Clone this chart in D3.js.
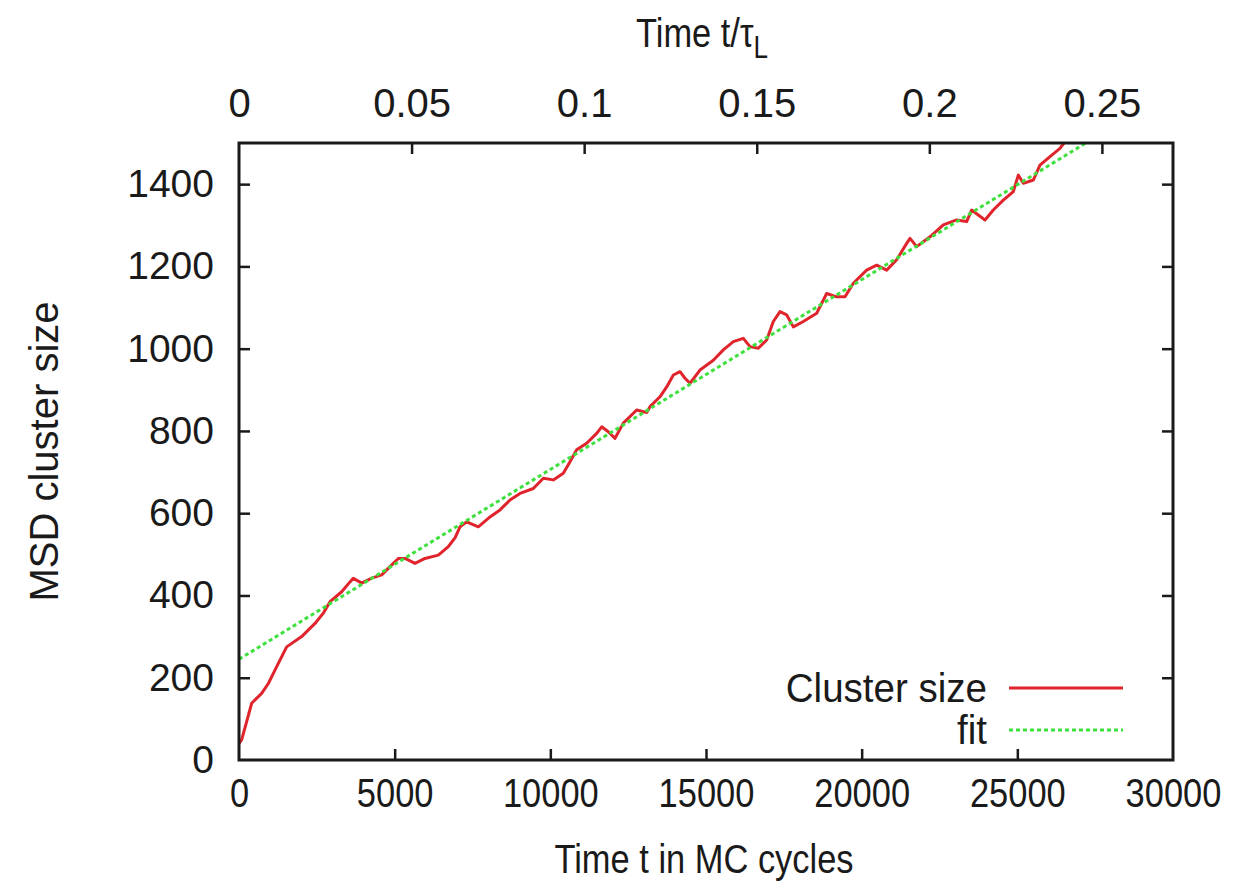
<!DOCTYPE html>
<html>
<head>
<meta charset="utf-8">
<script src="https://cdn.jsdelivr.net/npm/d3@7"></script>
<style>
  body { margin: 0; background: #fff; }
  text { font-family: "Liberation Sans", Arial, sans-serif; fill: #1a1a1a; }
</style>
</head>
<body>
<div id="chart"></div>
<script>
// measured cluster MSD (time in MC cycles, MSD)
const timeValues = [0, 85, 407, 728, 942, 1263, 1531, 2013, 2441, 2708, 2923, 3299, 3565, 3671, 3941, 4262, 4584, 4850, 5117, 5332, 5653, 5974, 6402, 6724, 6938, 7099, 7313, 7687, 8062, 8383, 8704, 9026, 9454, 9775, 10096, 10417, 10632, 10846, 11167, 11489, 11650, 11862, 12077, 12344, 12773, 13095, 13201, 13522, 13737, 13951, 14165, 14326, 14486, 14807, 15235, 15556, 15878, 16199, 16413, 16680, 16949, 17162, 17377, 17592, 17805, 18126, 18555, 18876, 19198, 19465, 19732, 20160, 20482, 20803, 21124, 21446, 21553, 21767, 22195, 22622, 23050, 23372, 23532, 23746, 23961, 24228, 24549, 24871, 25031, 25192, 25513, 25727, 26049, 26370, 26600];
const msdValues = [40, 49, 138, 162, 186, 235, 275, 300, 332, 357, 385, 409, 433, 442, 430, 442, 450, 470, 490, 490, 478, 490, 498, 519, 540, 567, 579, 567, 591, 608, 632, 648, 660, 685, 681, 697, 725, 754, 770, 794, 810, 798, 782, 819, 851, 845, 859, 883, 907, 936, 944, 928, 916, 948, 972, 997, 1017, 1025, 1005, 1001, 1021, 1066, 1090, 1082, 1053, 1066, 1086, 1134, 1126, 1126, 1159, 1191, 1203, 1191, 1216, 1256, 1268, 1248, 1272, 1301, 1313, 1309, 1337, 1325, 1313, 1337, 1361, 1382, 1422, 1402, 1410, 1446, 1467, 1487, 1510];
// linear fit, given by its two end points
const fitTime = [0, 27200];
const fitMsd = [245, 1500];

const xTicks = [0, 5000, 10000, 15000, 20000, 25000, 30000];
const yTicks = [0, 200, 400, 600, 800, 1000, 1200, 1400];
const topTicks = [0, 0.05, 0.1, 0.15, 0.2, 0.25];
const topMax = 0.2706;
const seriesNames = ["Cluster size", "fit"];

const width = 1255, height = 884;
const margin = { top: 143, right: 82, bottom: 124, left: 239 };
const chartWidth = width - margin.left - margin.right;
const chartHeight = height - margin.top - margin.bottom;

const svg = d3.select("#chart").append("svg").attr("width", width).attr("height", height);
const g = svg.append("g").attr("transform", `translate(${margin.left},${margin.top})`);

const x = d3.scaleLinear().domain([0, 30000]).range([0, chartWidth]);
const xTop = d3.scaleLinear().domain([0, topMax]).range([0, chartWidth]);
const y = d3.scaleLinear().domain([0, 1500]).range([chartHeight, 0]);

g.append("clipPath").attr("id", "clip").append("rect")
  .attr("width", chartWidth).attr("height", chartHeight);

// axes (gnuplot style: ticks inward, mirrored)
const styleAxis = (size) => (sel) => {
  sel.select(".domain").remove();
  sel.selectAll(".tick line").attr("stroke", "#1a1a1a").attr("stroke-width", 2.5);
  sel.selectAll(".tick text").style("font-size", size + "px").attr("fill", "#1a1a1a");
};

g.append("g").attr("transform", `translate(0,${chartHeight})`)
  .call(d3.axisBottom(x).tickValues(xTicks).tickFormat(d3.format("d")).tickSize(-11).tickPadding(18))
  .call(styleAxis(41))
  .call((s) => s.selectAll(".tick text").attr("transform", "scale(0.84,1)"))
  .call((s) => s.selectAll(".tick").filter((d) => d === 0 || d === 30000).select("line").remove());

g.append("g")
  .call(d3.axisTop(xTop).tickValues(topTicks).tickFormat((d) => d === 0 ? "0" : d3.format("")(d)).tickSize(-11).tickPadding(26))
  .call(styleAxis(40))
  .call((s) => s.selectAll(".tick").filter((d) => d === 0).select("line").remove());

g.append("g")
  .call(d3.axisLeft(y).tickValues(yTicks).tickFormat(d3.format("d")).tickSize(-11).tickPadding(25))
  .call(styleAxis(39))
  .call((s) => s.selectAll(".tick").filter((d) => d === 0).select("line").remove());

g.append("g").attr("transform", `translate(${chartWidth},0)`)
  .call(d3.axisRight(y).tickValues(yTicks).tickSize(-11).tickFormat(""))
  .call(styleAxis(39))
  .call((s) => s.selectAll(".tick").filter((d) => d === 0).select("line").remove());

// series
const msdData = timeValues.map((t, i) => ({ t, v: msdValues[i] }));
const fitData = fitTime.map((t, i) => ({ t, v: fitMsd[i] }));
const line = d3.line().x((d) => x(d.t)).y((d) => y(d.v));

const plot = g.append("g").attr("clip-path", "url(#clip)");
plot.append("path").datum(msdData)
  .attr("d", line).attr("fill", "none")
  .attr("stroke", "#e0242c").attr("stroke-width", 3).attr("stroke-linejoin", "round");
plot.append("path").datum(fitData)
  .attr("d", line).attr("fill", "none")
  .attr("stroke", "#3ee03e").attr("stroke-width", 3).attr("stroke-dasharray", "4,3");

// border
g.append("rect").attr("width", chartWidth).attr("height", chartHeight)
  .attr("fill", "none").attr("stroke", "#1a1a1a").attr("stroke-width", 3);

// legend
const legendColors = ["#e0242c", "#3ee03e"];
const legend = g.append("g").attr("transform", `translate(${chartWidth - 186},${chartHeight - 72})`);
seriesNames.forEach((name, i) => {
  const row = legend.append("g").attr("transform", `translate(0,${i * 42})`);
  row.append("text").attr("x", 0).attr("y", 0).attr("dy", "0.35em")
    .attr("text-anchor", "end").style("font-size", "41px")
    .attr("transform", "scale(0.94,1)").text(name);
  row.append("line").attr("x1", 22).attr("x2", 136).attr("y1", 0).attr("y2", 0)
    .attr("stroke", legendColors[i]).attr("stroke-width", 3)
    .attr("stroke-dasharray", i === 1 ? "4,3" : null);
});

// axis titles
svg.append("g").attr("transform", `translate(${margin.left + chartWidth / 2 - 2},873) scale(0.84,1)`)
  .append("text").attr("text-anchor", "middle").style("font-size", "41px")
  .text("Time t in MC cycles");

const topTitle = svg.append("g").attr("transform", "translate(702,47) scale(0.84,1)")
  .append("text").attr("text-anchor", "middle").style("font-size", "41px");
topTitle.append("tspan").text("Time t/τ");
topTitle.append("tspan").attr("dy", 11).style("font-size", "31px").text("L");

svg.append("text")
  .attr("transform", `translate(58,${margin.top + chartHeight / 2}) rotate(-90)`)
  .attr("text-anchor", "middle").style("font-size", "40px")
  .text("MSD cluster size");
</script>
</body>
</html>
